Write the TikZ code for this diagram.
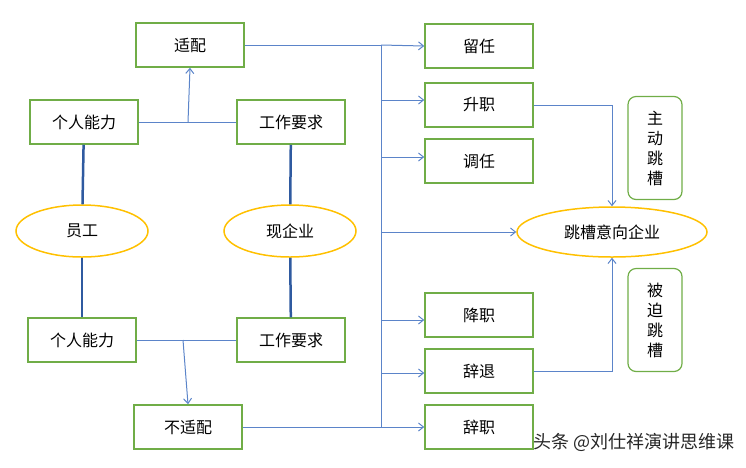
\documentclass[tikz,border=0pt]{standalone}
\usepackage{fontspec}
\newfontfamily\cjk{Noto Sans CJK SC}
\usetikzlibrary{arrows.meta,shapes.geometric}
\definecolor{bx}{HTML}{70AD47}
\definecolor{el}{HTML}{FFC000}
\definecolor{ln}{HTML}{5B84C9}
\definecolor{tk}{HTML}{2F5AA0}
\tikzset{
 box/.style={draw=bx,line width=1.5pt,fill=white,minimum width=108pt,minimum height=44pt,inner sep=0pt,font=\cjk\fontsize{16}{18}\selectfont},
 rbox/.style={draw=bx,line width=1.2pt,rounded corners=8pt,minimum width=54pt,minimum height=103pt,inner sep=0pt,align=center,font=\cjk\fontsize{16}{20}\selectfont},
 ell/.style={draw=el,ellipse,line width=1.5pt,inner sep=0pt,font=\cjk\fontsize{16}{18}\selectfont},
 con/.style={draw=ln,line width=1pt},
 arr/.style={con,-{Straight Barb[length=5pt,width=8pt]}},
 thick/.style={draw=tk,line width=2.5pt}
}
\begin{document}
\begin{tikzpicture}[x=1pt,y=-1pt]
\useasboundingbox (0,0) rectangle (746,467);
\node[box] (fit) at (190,45) {适配};
\node[box] (nl1) at (84,122) {个人能力};
\node[box] (yq1) at (291,122) {工作要求};
\node[ell,minimum width=132pt,minimum height=52pt] (yg) at (82,231) {员工};
\node[ell,minimum width=132pt,minimum height=52pt] (xq) at (290,231) {现企业};
\node[box] (nl2) at (82,340) {个人能力};
\node[box] (yq2) at (291,340) {工作要求};
\node[box] (bfit) at (188,427) {不适配};
\node[box] (lr) at (479,46) {留任};
\node[box] (sz) at (479,105) {升职};
\node[box] (dr) at (479,161) {调任};
\node[box] (jz) at (479,315) {降职};
\node[box] (ct) at (479,371) {辞退};
\node[box] (cz) at (479,427) {辞职};
\node[ell,minimum width=190pt,minimum height=50pt] (tc) at (612,232) {跳槽意向企业};
\node[rbox] (zd) at (655,148) {主\\动\\跳\\槽};
\node[rbox] (bp) at (655,320) {被\\迫\\跳\\槽};
\node[anchor=east,font=\cjk\fontsize{18}{20}\selectfont,text=black!85] (wm) at (738,442) {头条 @刘仕祥演讲思维课};
\coordinate (b1) at (381,45);
\coordinate (b2) at (381,427);
\coordinate (j1) at (188,122);
\coordinate (j2) at (183,340);
\coordinate (s1) at (381,100);
\coordinate (s2) at (381,157);
\coordinate (s3) at (381,232);
\coordinate (s4) at (381,320);
\coordinate (s5) at (381,373);
\draw[thick] (nl1) -- (yg); \draw[thick] (yg) -- (nl2);
\draw[thick] (yq1) -- (xq); \draw[thick] (xq) -- (yq2);
\draw[con] (nl1.east) -- (yq1.west);
\draw[arr] (j1) -- (fit.south);
\draw[con] (nl2.east) -- (yq2.west);
\draw[arr] (j2) -- (bfit.north);
\draw[con] (fit.east) -- (b1) -- (b2);
\draw[con] (bfit.east) -- (b2);
\draw[arr] (b1) -- (lr.west);
\draw[arr] (s1) -- (sz.west |- s1);
\draw[arr] (s2) -- (dr.west |- s2);
\draw[arr] (s3) -- (tc.west);
\draw[arr] (s4) -- (jz.west |- s4);
\draw[arr] (s5) -- (ct.west |- s5);
\draw[arr] (b2) -- (cz.west);
\draw[arr] (sz.east) -| (tc.north);
\draw[arr] (ct.east) -| (tc.south);
\end{tikzpicture}
\end{document}
